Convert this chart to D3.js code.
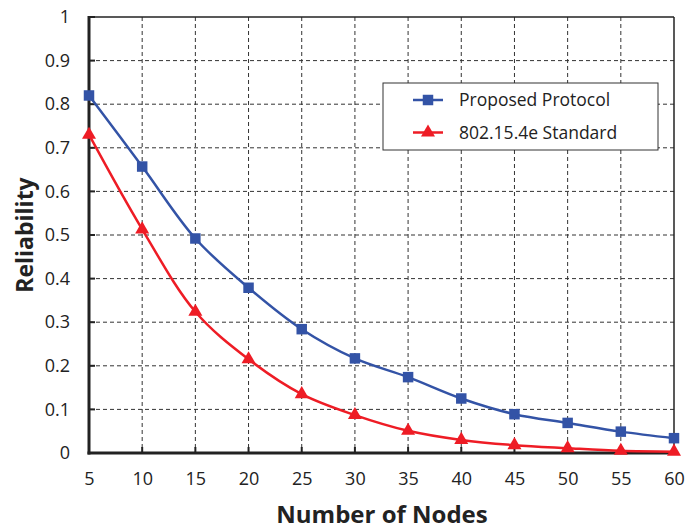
<!DOCTYPE html>
<html><head><meta charset="utf-8">
<script src="https://cdn.jsdelivr.net/npm/d3@7"></script>
<style>body{margin:0;background:#fff}svg{display:block}</style>
</head><body>
<svg id="c" width="689" height="529"></svg>
<script>
const nodes = [5,10,15,20,25,30,35,40,45,50,55,60];
const proposed = [0.82,0.657,0.492,0.379,0.284,0.217,0.174,0.125,0.089,0.069,0.049,0.034];
const standard = [0.73,0.513,0.324,0.215,0.135,0.087,0.051,0.030,0.018,0.011,0.005,0.003];
const yTicks = [0,0.1,0.2,0.3,0.4,0.5,0.6,0.7,0.8,0.9,1];
const seriesNames = ["Proposed Protocol","802.15.4e Standard"];
const colors = ["#3353A6","#EE1C25"];

const svg = d3.select("#c");
const L=89, R=674, T=17, B=453;
const x = d3.scaleLinear().domain([5,60]).range([L,R]);
const y = d3.scaleLinear().domain([0,1]).range([B,T]);
const font = "'Open Sans', sans-serif";

// grid
const g = svg.append("g");
g.selectAll(".vx").data(nodes.slice(1,-1)).join("line")
  .attr("x1",d=>x(d)).attr("x2",d=>x(d)).attr("y1",T).attr("y2",B)
  .attr("stroke","#333").attr("stroke-width",1).attr("stroke-dasharray","4,3");
g.selectAll(".hy").data(yTicks.slice(1,-1)).join("line")
  .attr("x1",L).attr("x2",R).attr("y1",d=>y(d)).attr("y2",d=>y(d))
  .attr("stroke","#333").attr("stroke-width",1).attr("stroke-dasharray","4,3");
// top/right frame
svg.append("line").attr("x1",L).attr("x2",R).attr("y1",T).attr("y2",T).attr("stroke","#222").attr("stroke-width",1.5);
svg.append("line").attr("x1",R).attr("x2",R).attr("y1",T).attr("y2",B).attr("stroke","#222").attr("stroke-width",1.5);

// axes
const xAxis = d3.axisBottom(x).tickValues(nodes).tickSize(0).tickPadding(19);
const yAxis = d3.axisLeft(y).tickValues(yTicks).tickSize(0).tickPadding(19).tickFormat(d=>d===0?"0":d===1?"1":d3.format(".1f")(d));
const xa = svg.append("g").attr("transform",`translate(0,${B})`).call(xAxis);
const ya = svg.append("g").attr("transform",`translate(${L},0)`).call(yAxis);
[xa,ya].forEach(a=>{a.select(".domain").remove();a.selectAll("text").attr("font-family",font).attr("font-size",18).attr("fill","#222");});
// inward ticks
svg.selectAll(".xt").data(nodes).join("line").attr("x1",d=>x(d)).attr("x2",d=>x(d)).attr("y1",B).attr("y2",B-6).attr("stroke","#222").attr("stroke-width",2);
svg.selectAll(".yt").data(yTicks).join("line").attr("x1",L).attr("x2",L+6).attr("y1",d=>y(d)).attr("y2",d=>y(d)).attr("stroke","#222").attr("stroke-width",2);
svg.append("line").attr("x1",L).attr("x2",L).attr("y1",T-1).attr("y2",B+1.5).attr("stroke","#222").attr("stroke-width",3);
svg.append("line").attr("x1",L-1.5).attr("x2",R+1).attr("y1",B).attr("y2",B).attr("stroke","#222").attr("stroke-width",3);

// lines
const line = d3.line().x((d,i)=>x(nodes[i])).y(d=>y(d)).curve(d3.curveCatmullRom.alpha(0.5));
[proposed,standard].forEach((s,k)=>{
  svg.append("path").datum(s).attr("d",line).attr("fill","none").attr("stroke",colors[k]).attr("stroke-width",2.5);
});
const sq = d3.symbol().type(d3.symbolSquare).size(110);
const tri = d3.symbol().type(d3.symbolTriangle).size(85);
svg.selectAll(".p0").data(proposed).join("path").attr("d",sq)
  .attr("transform",(d,i)=>`translate(${x(nodes[i])},${y(d)})`).attr("fill",colors[0]);
svg.selectAll(".p1").data(standard).join("path").attr("d",tri)
  .attr("transform",(d,i)=>`translate(${x(nodes[i])},${y(d)})`).attr("fill",colors[1]);

// legend
const lg = svg.append("g");
lg.append("rect").attr("x",383).attr("y",83).attr("width",275).attr("height",67).attr("fill","#fff").attr("stroke","#333").attr("stroke-width",1);
seriesNames.forEach((n,k)=>{
  const yy = 100 + k*32.5;
  lg.append("line").attr("x1",413).attr("x2",443).attr("y1",yy).attr("y2",yy).attr("stroke",colors[k]).attr("stroke-width",2.5);
  lg.append("path").attr("d",k===0?sq:tri).attr("transform",`translate(428,${yy})`).attr("fill",colors[k]);
  lg.append("text").attr("x",459).attr("y",yy).attr("dy","0.35em").attr("font-family",font).attr("font-size",17.5).attr("fill","#222").text(n);
});

// titles
svg.append("text").attr("x",382).attr("y",523).attr("text-anchor","middle").attr("font-family",font).attr("font-weight","bold").attr("font-size",24).attr("fill","#222").text("Number of Nodes");
svg.append("text").attr("transform","translate(33,235) rotate(-90)").attr("text-anchor","middle").attr("font-family",font).attr("font-weight","bold").attr("font-size",23).attr("fill","#222").text("Reliability");
</script>
</body></html>
